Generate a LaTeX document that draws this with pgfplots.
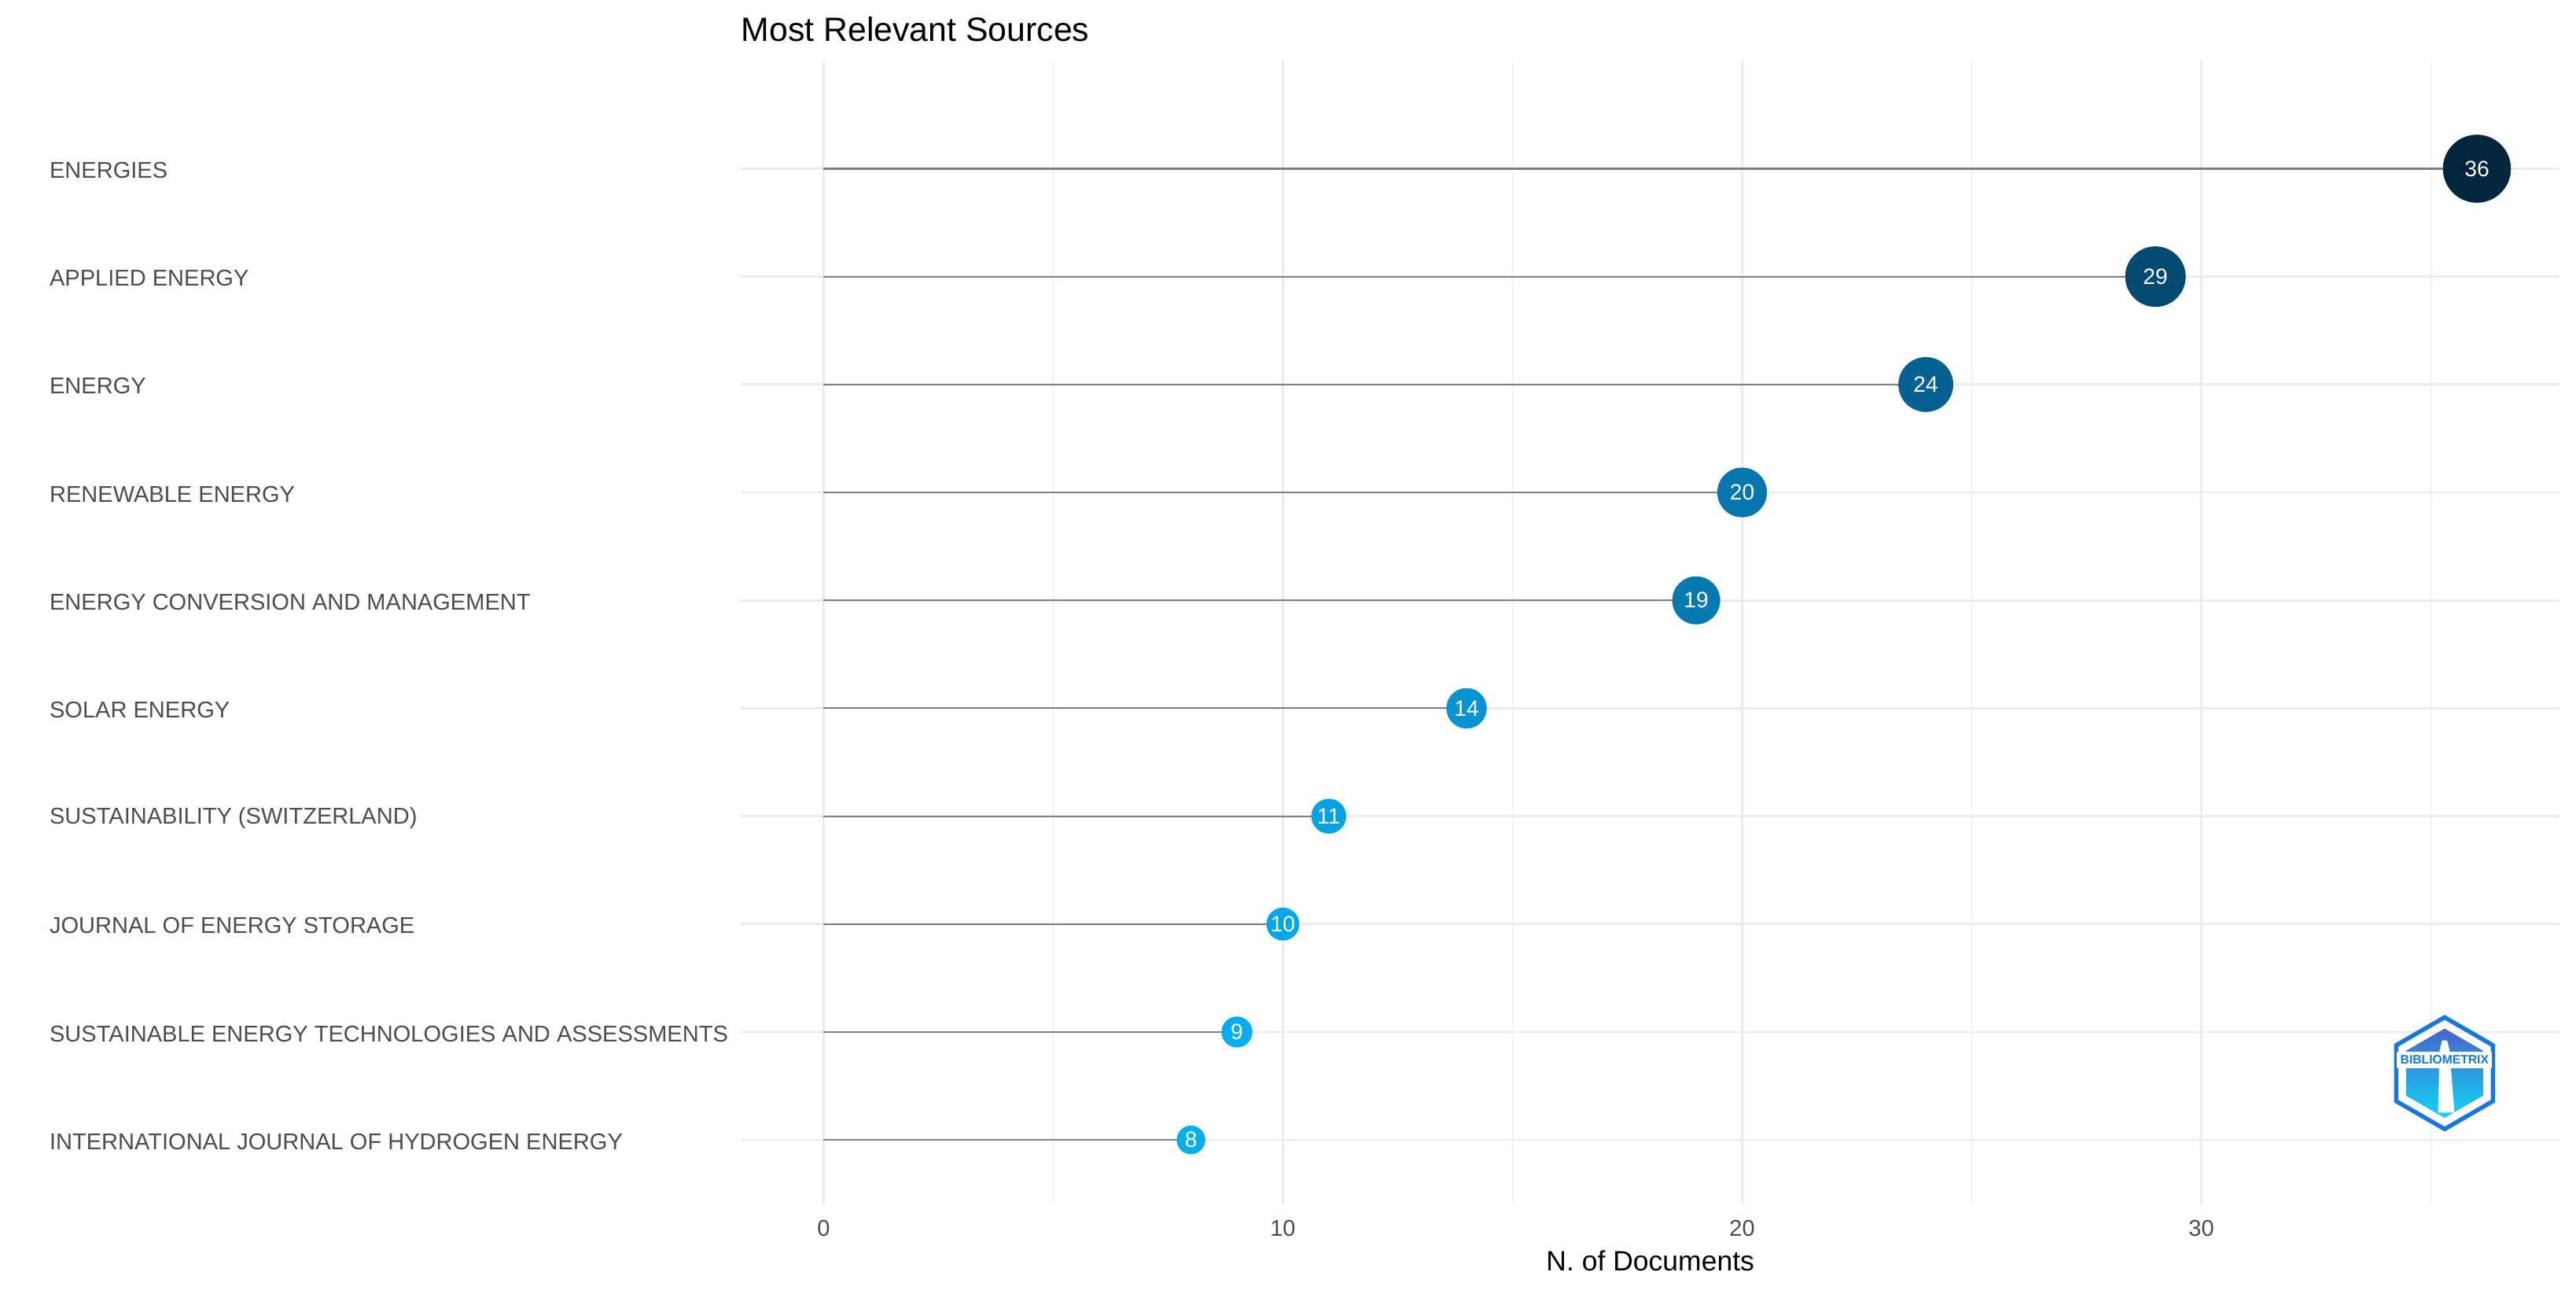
\documentclass[border=0pt]{standalone}
\usepackage{pgfplots}
\pgfplotsset{compat=1.18}
\usepackage{pgfplotstable}
\usepackage{fontspec}
\setmainfont{Liberation Sans}

\definecolor{c36}{RGB}{3,38,63}
\definecolor{c29}{RGB}{3,74,112}
\definecolor{c24}{RGB}{4,98,146}
\definecolor{c20}{RGB}{5,118,173}
\definecolor{c19}{RGB}{5,121,177}
\definecolor{c14}{RGB}{4,147,211}
\definecolor{c11}{RGB}{2,163,227}
\definecolor{c10}{RGB}{0,168,233}
\definecolor{c9}{RGB}{0,173,239}
\definecolor{c8}{RGB}{0,175,239}
\definecolor{gridc}{RGB}{235,235,235}
\definecolor{tickc}{RGB}{77,77,77}
\definecolor{stemc}{RGB}{128,128,128}
\definecolor{logoA}{RGB}{70,100,205}
\definecolor{logoB}{RGB}{15,215,245}
\definecolor{logoT}{RGB}{20,120,220}

\pgfplotstableread{
y n
1 8
2 9
3 10
4 11
5 14
6 19
7 20
8 24
9 29
10 36
}\sources

\begin{document}
\begin{tikzpicture}
\path[use as bounding box] (0bp,0bp) rectangle (1568bp,787bp);
\begin{axis}[
  at={(451bp,54bp)}, anchor=south west,
  scale only axis, width=1107bp, height=696bp,
  xmin=-1.8, xmax=37.8, ymin=0.4, ymax=11.0,
  clip=false,
  axis line style={draw=none},
  major tick length=0pt, minor tick length=0pt,
  xtick={0,10,20,30}, minor xtick={5,15,25,35},
  ytick={1,2,3,4,5,6,7,8,9,10},
  yticklabels={INTERNATIONAL JOURNAL OF HYDROGEN ENERGY, SUSTAINABLE ENERGY TECHNOLOGIES AND ASSESSMENTS, JOURNAL OF ENERGY STORAGE, SUSTAINABILITY (SWITZERLAND), SOLAR ENERGY, ENERGY CONVERSION AND MANAGEMENT, RENEWABLE ENERGY, ENERGY, APPLIED ENERGY, ENERGIES},
  xmajorgrids, xminorgrids, ymajorgrids,
  major grid style={draw=gridc, line width=1.3bp},
  minor grid style={draw=gridc, line width=0.6bp},
  /pgf/number format/assume math mode=true,
  tick label style={font=\fontsize{13.9bp}{16bp}\selectfont, text=tickc},
  yticklabel style={anchor=west, inner sep=0pt, xshift=-421bp, yshift=-1bp},
  xticklabel style={anchor=base, inner sep=0pt, yshift=-19bp},
  xlabel={N. of Documents},
  ylabel={Sources},
  label style={font=\fontsize{17bp}{19bp}\selectfont, text=black},
  xlabel style={at={(axis description cs:0.5,0)}, anchor=base, inner sep=0pt, yshift=-40bp},
  ylabel style={at={(axis description cs:0,0.5)}, anchor=center, inner sep=0pt, xshift=-434bp, rotate=0},
  title={Most Relevant Sources},
  title style={at={(axis description cs:0,1)}, anchor=base west, inner sep=0pt, yshift=6bp, font=\fontsize{20.5bp}{23bp}\selectfont},
  nodes near coords style={anchor=center, text=white, inner sep=0pt, font=\fontsize{13.5bp}{15bp}\selectfont},
]
\addplot[xcomb, draw=stemc, line width=1bp, mark=none] table[x=n, y=y] {\sources};
\addplot[only marks, mark=*, mark size=20.5bp, draw=c36, fill=c36, point meta=x, nodes near coords] coordinates {(36,10)};
\addplot[only marks, mark=*, mark size=18.2bp, draw=c29, fill=c29, point meta=x, nodes near coords] coordinates {(29,9)};
\addplot[only marks, mark=*, mark size=16.5bp, draw=c24, fill=c24, point meta=x, nodes near coords] coordinates {(24,8)};
\addplot[only marks, mark=*, mark size=14.9bp, draw=c20, fill=c20, point meta=x, nodes near coords] coordinates {(20,7)};
\addplot[only marks, mark=*, mark size=14.4bp, draw=c19, fill=c19, point meta=x, nodes near coords] coordinates {(19,6)};
\addplot[only marks, mark=*, mark size=12.1bp, draw=c14, fill=c14, point meta=x, nodes near coords] coordinates {(14,5)};
\addplot[only marks, mark=*, mark size=10.4bp, draw=c11, fill=c11, point meta=x, nodes near coords] coordinates {(11,4)};
\addplot[only marks, mark=*, mark size=9.8bp, draw=c10, fill=c10, point meta=x, nodes near coords] coordinates {(10,3)};
\addplot[only marks, mark=*, mark size=9.2bp, draw=c9, fill=c9, point meta=x, nodes near coords] coordinates {(9,2)};
\addplot[only marks, mark=*, mark size=8.5bp, draw=c8, fill=c8, point meta=x, nodes near coords] coordinates {(8,1)};
\end{axis}
% logo
\begin{scope}[shift={(1488bp,134bp)}]
  \draw[line width=2.6bp, logoT] (90:34bp) -- (150:34bp) -- (210:34bp) -- (270:34bp) -- (330:34bp) -- (30:34bp) -- cycle;
  \fill[top color=logoA, bottom color=logoB] (90:27bp) -- (150:27bp) -- (210:27bp) -- (270:27bp) -- (330:27bp) -- (30:27bp) -- cycle;
  \fill[white] (-4bp,-24bp) -- (-3bp,14bp) -- (-1.5bp,20bp) -- (1.5bp,20bp) -- (3bp,14bp) -- (6bp,-24bp) -- cycle;
  \fill[white] (-29bp,3bp) rectangle (29bp,13bp);
  \node[inner sep=0pt, text=logoT, font=\bfseries\fontsize{7.5bp}{8bp}\selectfont] at (0bp,8bp) {BIBLIOMETRIX};
\end{scope}
\end{tikzpicture}
\end{document}
